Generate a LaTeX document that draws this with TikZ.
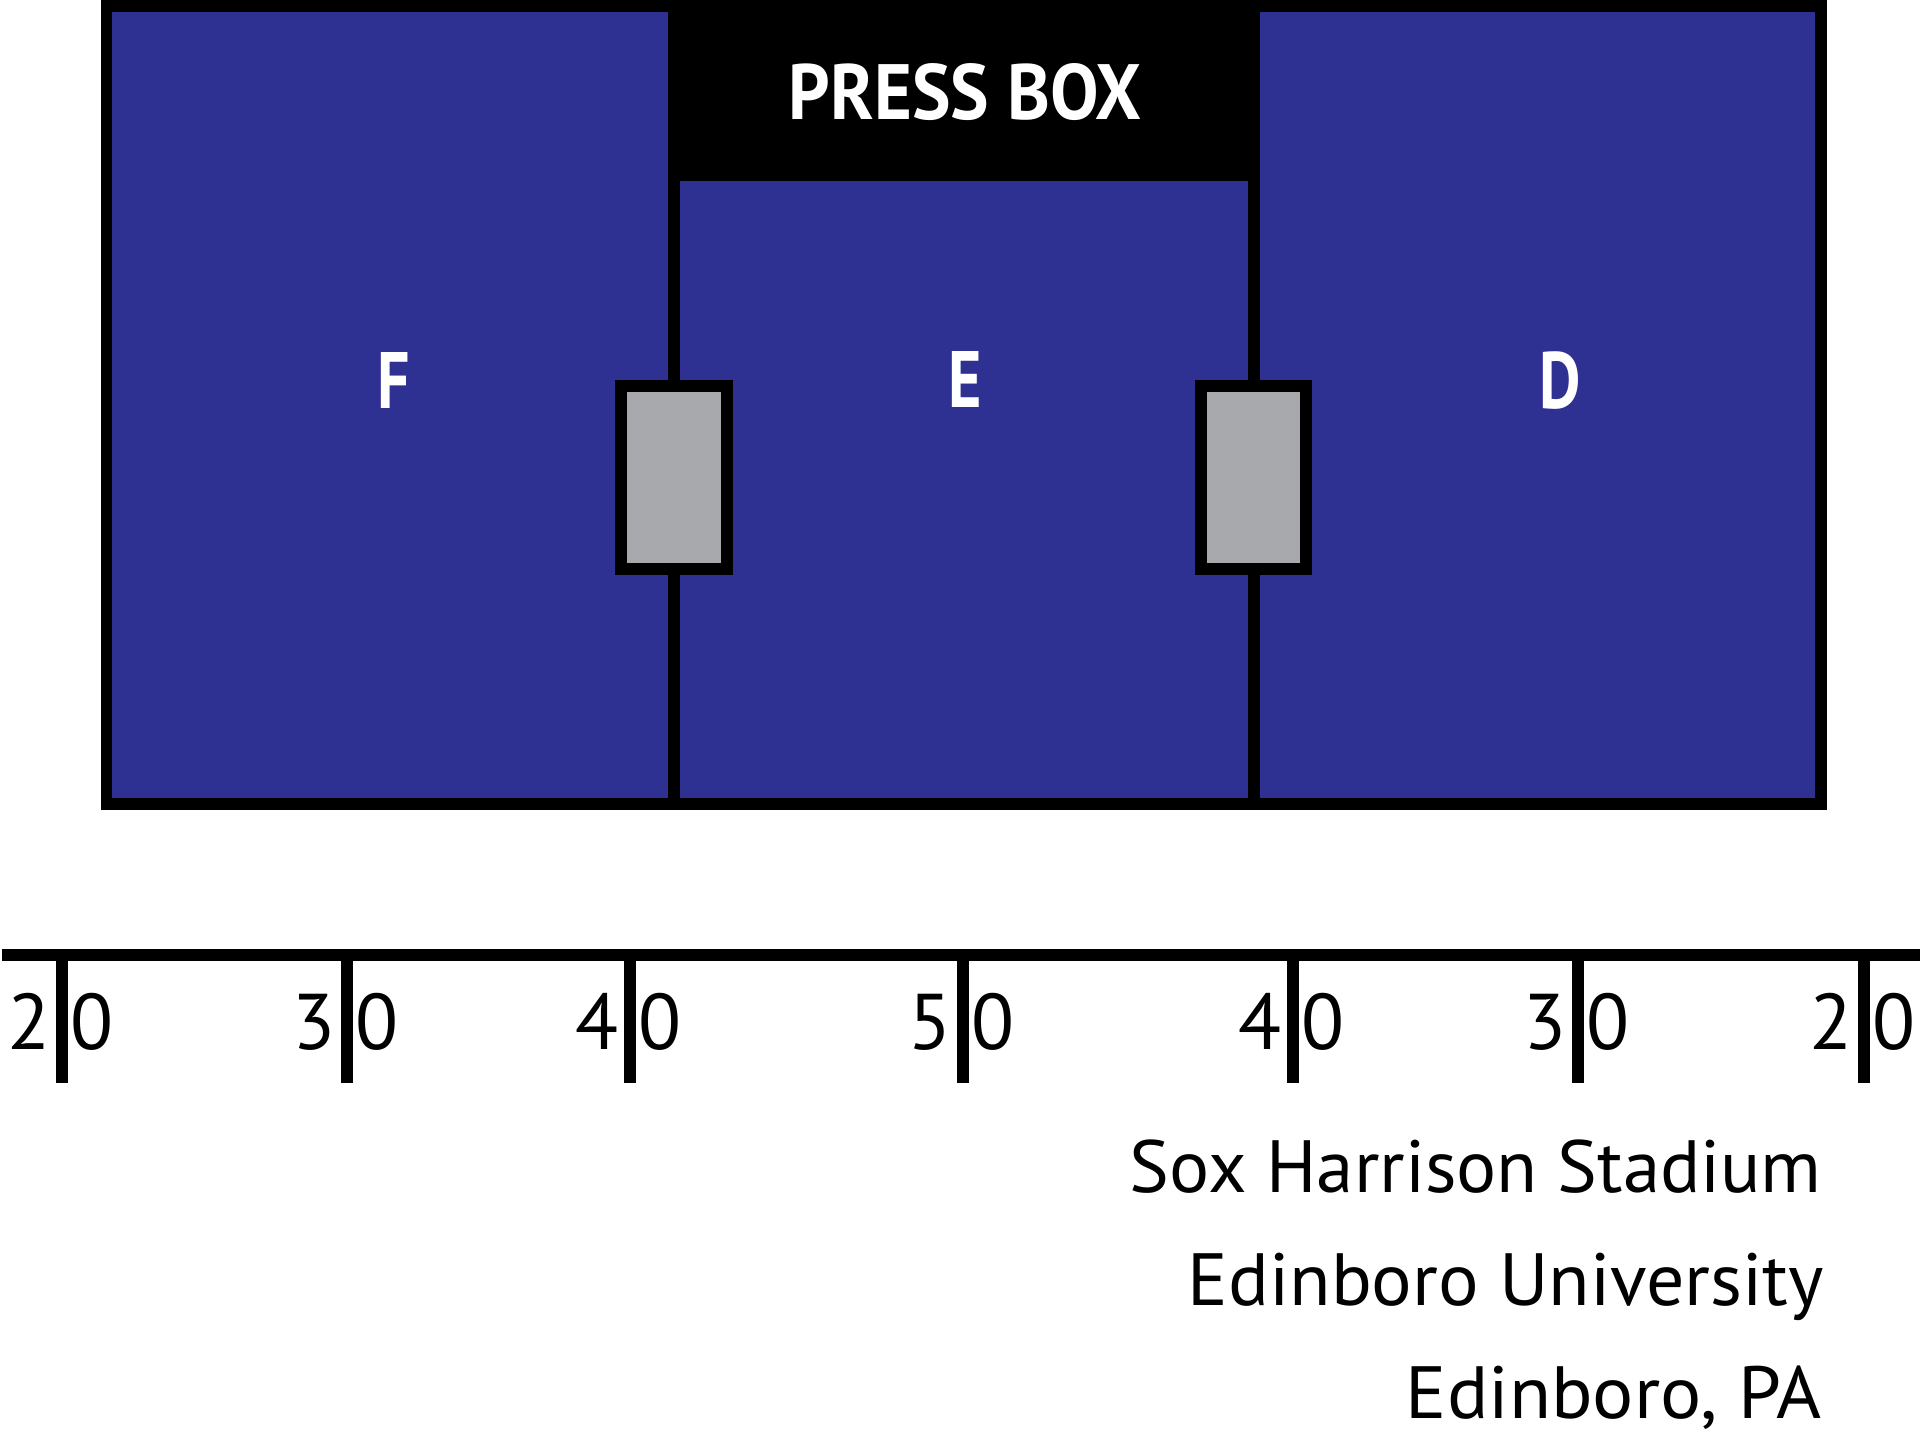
\documentclass[tikz,border=0pt]{standalone}
\usepackage{fontspec}
\setmainfont{PT Sans}
\usetikzlibrary{positioning}
\definecolor{seatblue}{HTML}{2E3192}
\definecolor{tunnelgray}{HTML}{A7A9AC}
\tikzset{
  border/.style={draw=black,line width=11.5pt},
  divider/.style={draw=black,line width=12pt},
  tunnel/.style={fill=tunnelgray,draw=black,line width=12pt},
  yardline/.style={draw=black,line width=12pt},
  seclabel/.style={text=white,inner sep=0pt,anchor=base,font=\fontsize{80pt}{90pt}\selectfont\bfseries},
  digit/.style={inner sep=0pt,font=\fontsize{79pt}{80pt}\selectfont},
  info/.style={inner sep=0pt,anchor=base east,font=\fontsize{74pt}{80pt}\selectfont}
}
\begin{document}
\begin{tikzpicture}[x=1pt,y=-1pt]
\useasboundingbox (0,0) rectangle (1920,1443);
\fill[white] (0,0) rectangle (1920,1443);
% seating area
\fill[seatblue] (101,0) rectangle (1827,810);
\fill[black] (668,0) rectangle (1260,181);
\draw[border] (106.5,6) rectangle (1821,804);
\coordinate (d1t) at (674,181);
\coordinate (d1b) at (674,804);
\coordinate (d2t) at (1254,181);
\coordinate (d2b) at (1254,804);
\draw[divider] (d1t) -- (d1b);
\draw[divider] (d2t) -- (d2b);
\draw[tunnel] (621,386) rectangle (727,569);
\draw[tunnel] (1201,386) rectangle (1306,569);
% labels
\node[seclabel] (press) at (965,119) {\resizebox{352pt}{56pt}{PRESS BOX}};
\node[seclabel] (F) at (394,408) {\scalebox{0.8}[1]{F}};
\node[seclabel] (E) at (965,407) {\scalebox{0.8}[1]{E}};
\node[seclabel] (D) at (1560,408) {\scalebox{0.8}[1]{D}};
% yard line
\coordinate (yl) at (2,955);
\coordinate (yr) at (1920,955);
\draw[yardline] (yl) -- (yr);
\foreach \x/\a/\b [count=\i] in {62/2/0,347/3/0,630/4/0,963/5/0,1293/4/0,1578/3/0,1864/2/0}{
  \coordinate (t\i) at (\x,955);
  \coordinate (tb\i) at (\x,1083);
  \draw[yardline] (t\i) -- (tb\i);
  \node[digit,anchor=base east] (da\i) at (\x-11,1049) {\a};
  \node[digit,anchor=base west] (db\i) at (\x+8,1049) {\b};
}
% info
\node[info] (l1) at (1822,1192) {\resizebox{692pt}{\height}{Sox Harrison Stadium}};
\node[info] (l2) at (1824,1305) {\resizebox{636pt}{\height}{Edinboro University}};
\node[info] (l3) at (1822,1418) {\resizebox{416pt}{\height}{Edinboro, PA}};
\end{tikzpicture}
\end{document}
